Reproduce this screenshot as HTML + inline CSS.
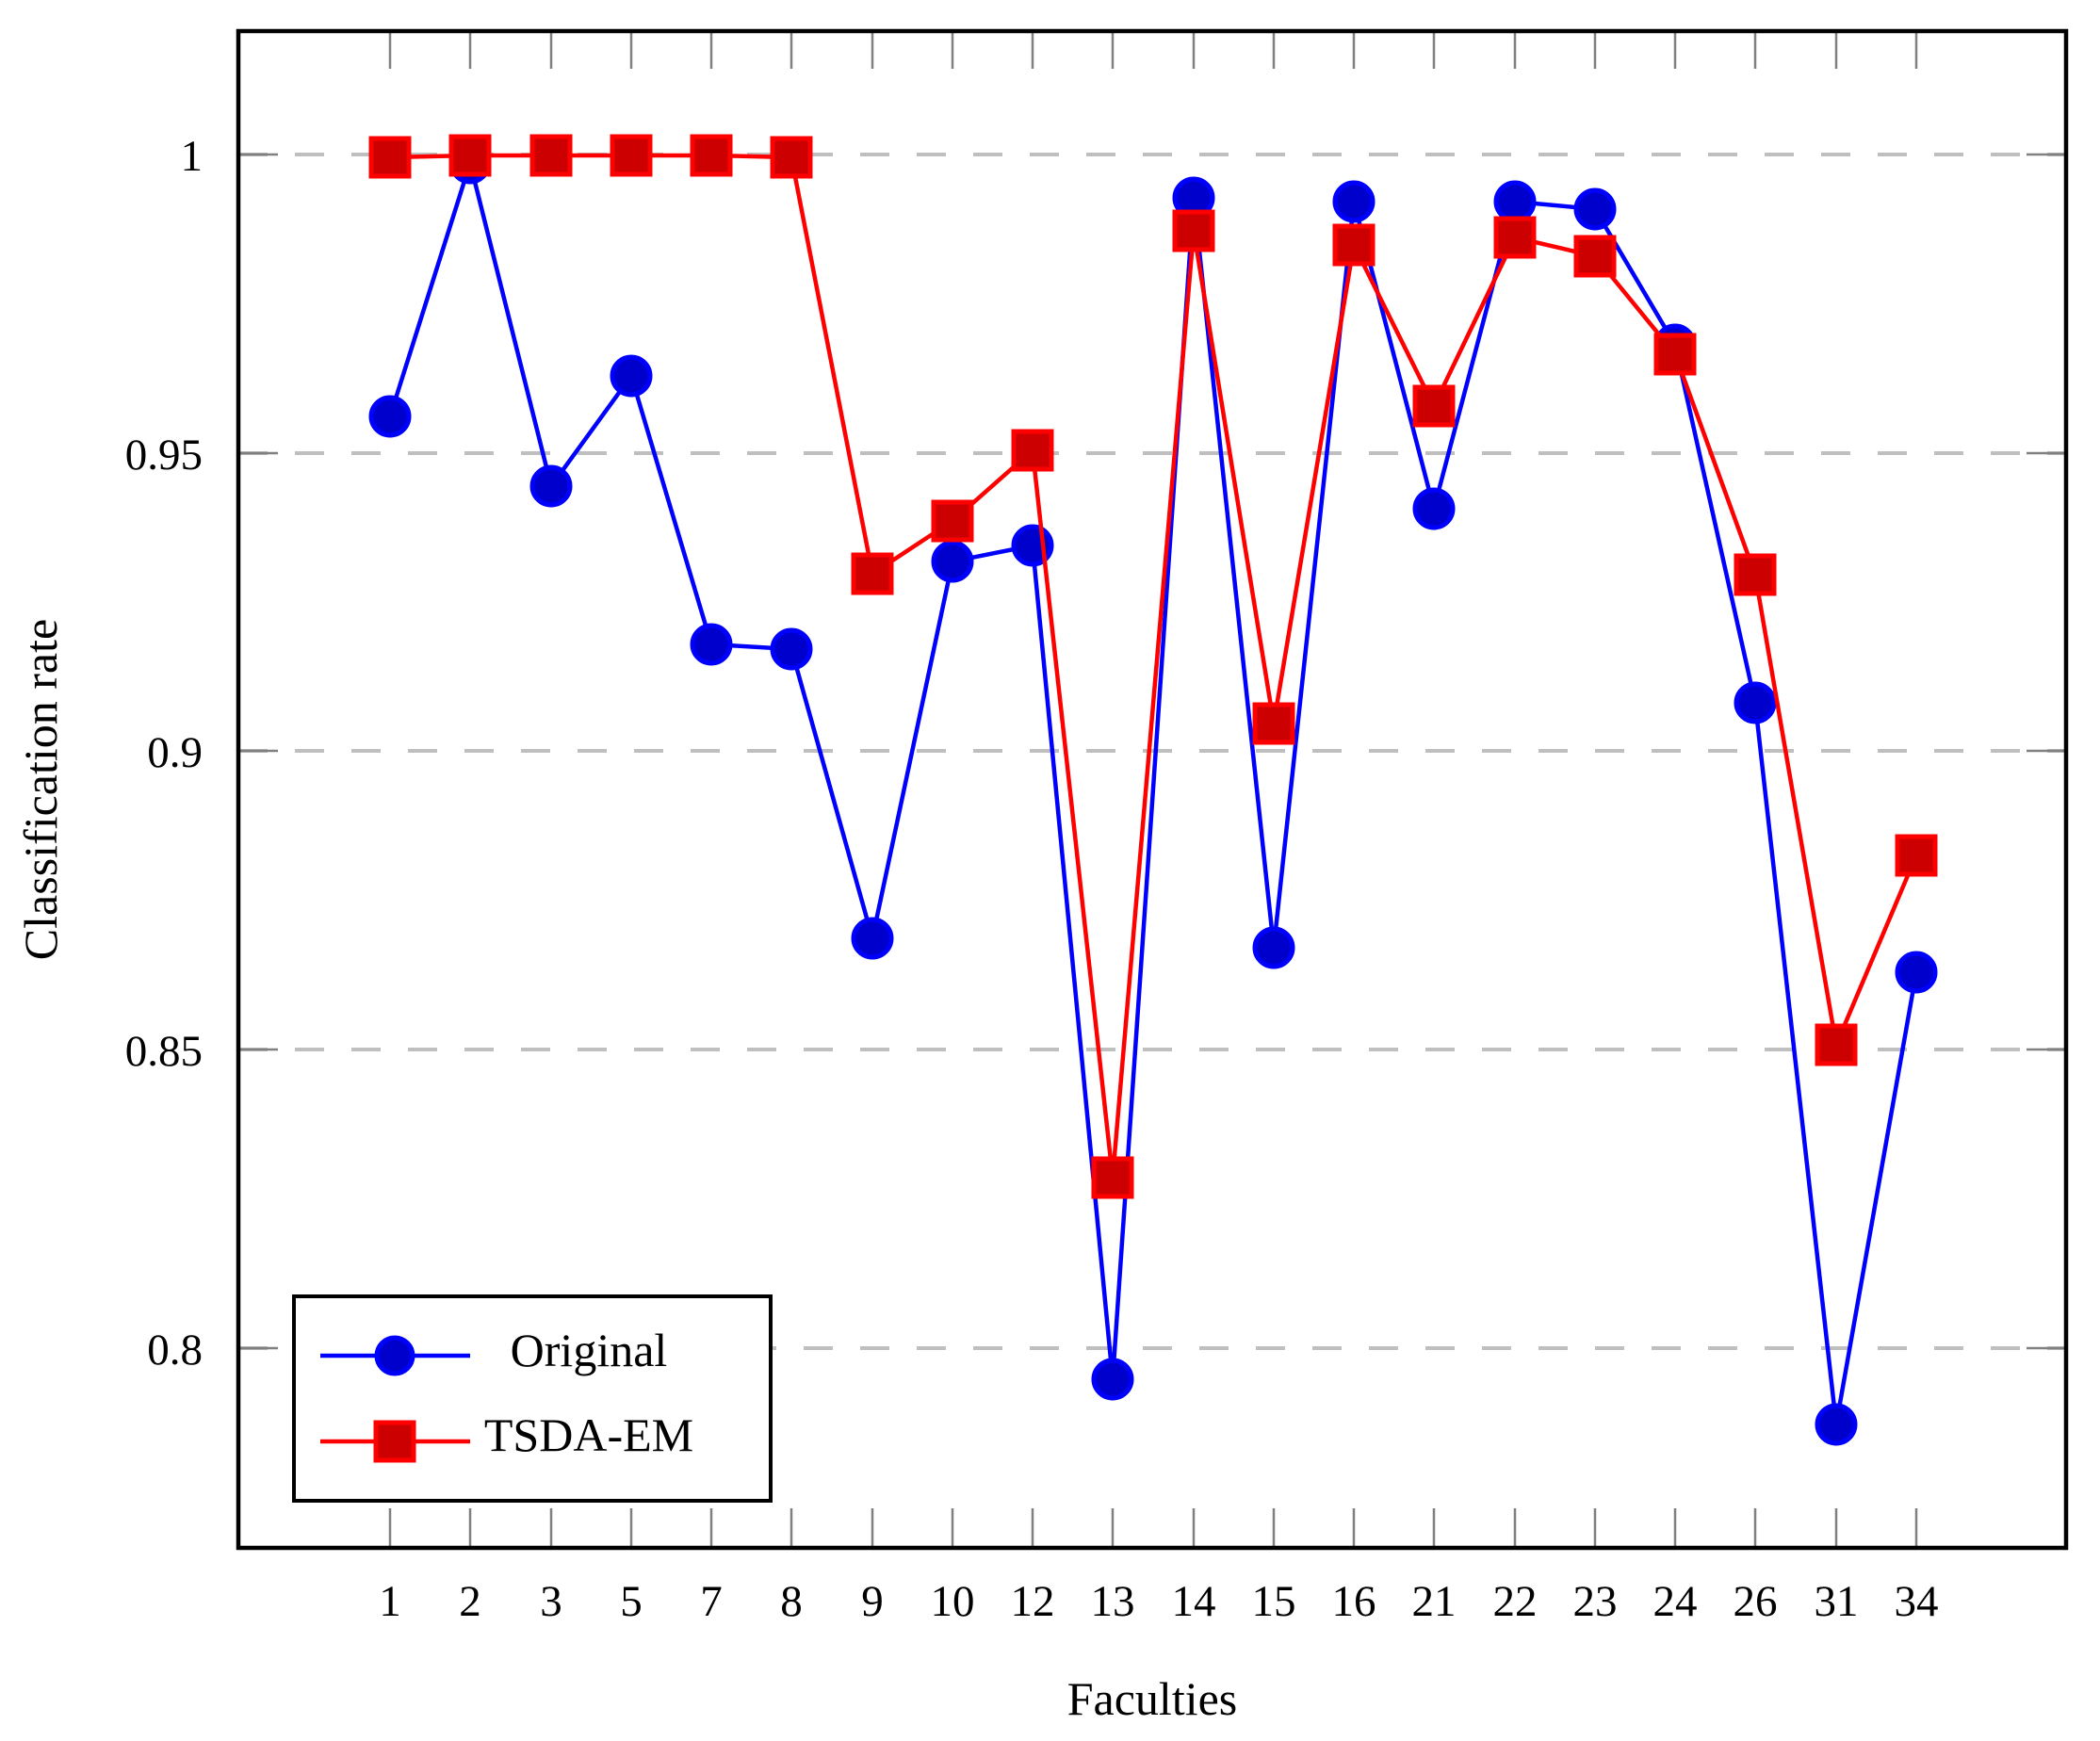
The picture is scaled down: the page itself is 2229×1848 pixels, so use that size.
<!DOCTYPE html>
<html><head><meta charset="utf-8"><style>html,body{margin:0;padding:0;background:#fff}svg{display:block}</style></head>
<body>
<svg width="2229" height="1848" viewBox="0 0 2229 1848" xmlns="http://www.w3.org/2000/svg" font-family="'Liberation Serif', serif">
<rect width="2229" height="1848" fill="#fff"/>
<g stroke="#bfbfbf" stroke-width="4" stroke-dasharray="31,29">
<line x1="253" y1="164" x2="2193" y2="164"/>
<line x1="253" y1="481" x2="2193" y2="481"/>
<line x1="253" y1="797" x2="2193" y2="797"/>
<line x1="253" y1="1114" x2="2193" y2="1114"/>
<line x1="253" y1="1431" x2="2193" y2="1431"/>
</g>
<g stroke="#808080" stroke-width="2.5">
<line x1="253" y1="164" x2="295" y2="164"/><line x1="2151" y1="164" x2="2193" y2="164"/>
<line x1="253" y1="481" x2="295" y2="481"/><line x1="2151" y1="481" x2="2193" y2="481"/>
<line x1="253" y1="797" x2="295" y2="797"/><line x1="2151" y1="797" x2="2193" y2="797"/>
<line x1="253" y1="1114" x2="295" y2="1114"/><line x1="2151" y1="1114" x2="2193" y2="1114"/>
<line x1="253" y1="1431" x2="295" y2="1431"/><line x1="2151" y1="1431" x2="2193" y2="1431"/>
</g>
<g stroke="#808080" stroke-width="2.5">
<path d="M414 33v40M499 33v40M585 33v40M670 33v40M755 33v40M840 33v40M926 33v40M1011 33v40M1096 33v40M1181 33v40M1267 33v40M1352 33v40M1437 33v40M1522 33v40M1608 33v40M1693 33v40M1778 33v40M1863 33v40M1949 33v40M2034 33v40"/>
<path d="M414 1643v-42M499 1643v-42M585 1643v-42M670 1643v-42M755 1643v-42M840 1643v-42M926 1643v-42M1011 1643v-42M1096 1643v-42M1181 1643v-42M1267 1643v-42M1352 1643v-42M1437 1643v-42M1522 1643v-42M1608 1643v-42M1693 1643v-42M1778 1643v-42M1863 1643v-42M1949 1643v-42M2034 1643v-42"/>
</g>
<polyline fill="none" stroke="#0000ff" stroke-width="4.5" points="414,442 499,173 585,516 670,399 755,684 840,689 926,996 1011,596 1096,579 1181,1464 1267,210 1352,1006 1437,214 1522,540 1608,214 1693,222 1778,366 1863,746 1949,1512 2034,1032"/>
<g fill="#0000cc" stroke="#0000ff" stroke-width="5">
<circle cx="414" cy="442" r="20"/><circle cx="499" cy="173" r="20"/><circle cx="585" cy="516" r="20"/><circle cx="670" cy="399" r="20"/><circle cx="755" cy="684" r="20"/><circle cx="840" cy="689" r="20"/><circle cx="926" cy="996" r="20"/><circle cx="1011" cy="596" r="20"/><circle cx="1096" cy="579" r="20"/><circle cx="1181" cy="1464" r="20"/><circle cx="1267" cy="210" r="20"/><circle cx="1352" cy="1006" r="20"/><circle cx="1437" cy="214" r="20"/><circle cx="1522" cy="540" r="20"/><circle cx="1608" cy="214" r="20"/><circle cx="1693" cy="222" r="20"/><circle cx="1778" cy="366" r="20"/><circle cx="1863" cy="746" r="20"/><circle cx="1949" cy="1512" r="20"/><circle cx="2034" cy="1032" r="20"/>
</g>
<polyline fill="none" stroke="#ff0000" stroke-width="4.5" points="414,167 499,165 585,165 670,165 755,165 840,167 926,609 1011,553 1096,478 1181,1250 1267,245 1352,768 1437,260 1522,431 1608,252 1693,272 1778,376 1863,610 1949,1109 2034,908"/>
<g fill="#cc0000" stroke="#ff0000" stroke-width="5">
<rect x="394" y="147" width="40" height="40"/><rect x="479" y="145" width="40" height="40"/><rect x="565" y="145" width="40" height="40"/><rect x="650" y="145" width="40" height="40"/><rect x="735" y="145" width="40" height="40"/><rect x="820" y="147" width="40" height="40"/><rect x="906" y="589" width="40" height="40"/><rect x="991" y="533" width="40" height="40"/><rect x="1076" y="458" width="40" height="40"/><rect x="1161" y="1230" width="40" height="40"/><rect x="1247" y="225" width="40" height="40"/><rect x="1332" y="748" width="40" height="40"/><rect x="1417" y="240" width="40" height="40"/><rect x="1502" y="411" width="40" height="40"/><rect x="1588" y="232" width="40" height="40"/><rect x="1673" y="252" width="40" height="40"/><rect x="1758" y="356" width="40" height="40"/><rect x="1843" y="590" width="40" height="40"/><rect x="1929" y="1089" width="40" height="40"/><rect x="2014" y="888" width="40" height="40"/>
</g>
<rect x="312" y="1376" width="506" height="217" fill="#fff" stroke="#000" stroke-width="4"/>
<line x1="340" y1="1439" x2="499" y2="1439" stroke="#0000ff" stroke-width="4.5"/>
<circle cx="419" cy="1439" r="19" fill="#0000cc" stroke="#0000ff" stroke-width="5"/>
<line x1="340" y1="1530" x2="499" y2="1530" stroke="#ff0000" stroke-width="4.5"/>
<rect x="399" y="1510" width="40" height="40" fill="#cc0000" stroke="#ff0000" stroke-width="5"/>
<g font-size="50" fill="#000">
<text x="625" y="1450" text-anchor="middle">Original</text>
<text x="625" y="1540" text-anchor="middle">TSDA-EM</text>
</g>
<rect x="253" y="33" width="1940" height="1610" fill="none" stroke="#000" stroke-width="4.5"/>
<g font-size="47" fill="#000" text-anchor="end">
<text x="215" y="181">1</text>
<text x="215" y="498">0.95</text>
<text x="215" y="814">0.9</text>
<text x="215" y="1131">0.85</text>
<text x="215" y="1448">0.8</text>
</g>
<g font-size="47" fill="#000" text-anchor="middle">
<text x="414" y="1715">1</text><text x="499" y="1715">2</text><text x="585" y="1715">3</text><text x="670" y="1715">5</text><text x="755" y="1715">7</text><text x="840" y="1715">8</text><text x="926" y="1715">9</text><text x="1011" y="1715">10</text><text x="1096" y="1715">12</text><text x="1181" y="1715">13</text><text x="1267" y="1715">14</text><text x="1352" y="1715">15</text><text x="1437" y="1715">16</text><text x="1522" y="1715">21</text><text x="1608" y="1715">22</text><text x="1693" y="1715">23</text><text x="1778" y="1715">24</text><text x="1863" y="1715">26</text><text x="1949" y="1715">31</text><text x="2034" y="1715">34</text>
</g>
<text x="1223" y="1820" font-size="50" text-anchor="middle">Faculties</text>
<text transform="translate(60,838) rotate(-90)" font-size="50" text-anchor="middle">Classification rate</text>
</svg>
</body></html>
